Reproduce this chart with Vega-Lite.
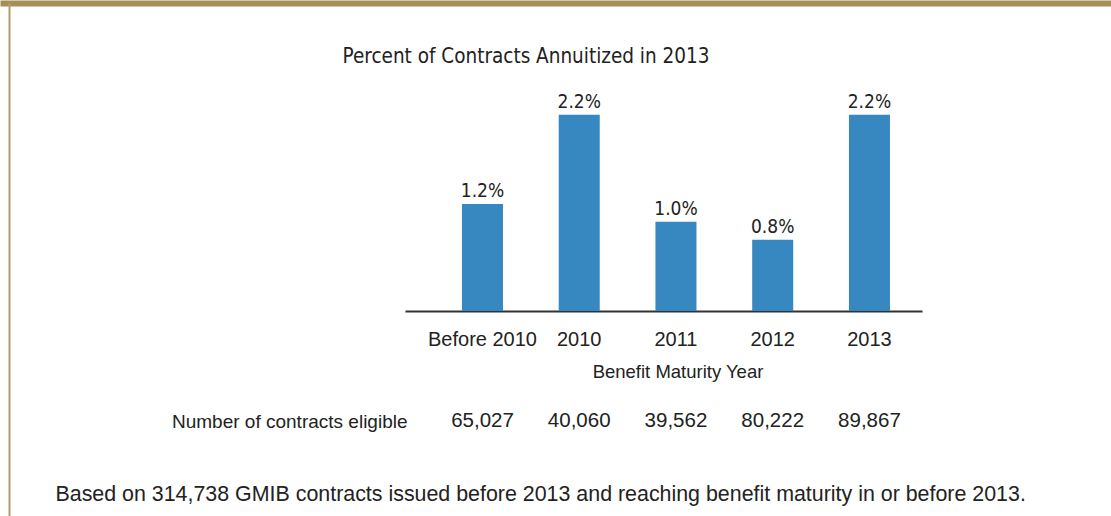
{
 "$schema": "https://vega.github.io/schema/vega-lite/v6.json",
 "width": 1111,
 "height": 513,
 "autosize": {"type": "none"},
 "padding": {"left": 0, "top": 3, "right": 0, "bottom": 0},
 "background": "#ffffff",
 "config": {"view": {"stroke": null}, "font": "Liberation Sans", "axis": {"grid": false}},
 "data": {"values": [
   {"year": "Before 2010", "pct": 0.012, "contracts": 65027},
   {"year": "2010", "pct": 0.022, "contracts": 40060},
   {"year": "2011", "pct": 0.010, "contracts": 39562},
   {"year": "2012", "pct": 0.008, "contracts": 80222},
   {"year": "2013", "pct": 0.022, "contracts": 89867}
 ]},
 "layer": [
  {
   "encoding": {
     "x": {"field": "year", "type": "nominal", "sort": null,
       "scale": {"range": [405, 922], "paddingInner": 0.576, "paddingOuter": 0.46, "align": 0.64},
       "axis": {"orient": "bottom", "offset": -205, "domain": true, "domainColor": "#333333", "domainWidth": 2, "ticks": false, "tickSize": 0, "labelFontSize": 20, "labelColor": "#222222", "labelAngle": 0, "labelBaseline": "alphabetic", "labelPadding": 34, "title": "Benefit Maturity Year", "titleFontSize": 18.5, "titleFontWeight": "normal", "titleColor": "#222222", "titleX": 677.5, "titleY": 66, "titleBaseline": "alphabetic", "titleAlign": "center"}},
     "y": {"field": "pct", "type": "quantitative",
       "scale": {"domain": [0, 0.025], "range": [308, 85], "nice": false},
       "axis": {"orient": "left", "domain": false, "ticks": false, "labels": false, "grid": false, "title": "Number of contracts eligible", "titleAngle": 0, "titleX": 407, "titleY": 424, "titleAlign": "right", "titleBaseline": "alphabetic", "titleFontSize": 19, "titleFontWeight": "normal", "titleColor": "#222222"}}
   },
   "layer": [
     {"mark": {"type": "bar", "color": "#3787c0"}},
     {"mark": {"type": "text", "font": "DejaVu Sans Condensed, Liberation Sans", "fontSize": 19, "dy": -7, "baseline": "alphabetic", "color": "#222222"},
      "encoding": {"text": {"field": "pct", "type": "quantitative", "format": ".1%"}}},
     {"mark": {"type": "text", "fontSize": 20.5, "dy": 116, "baseline": "alphabetic", "color": "#222222"},
      "encoding": {"y": {"datum": 0, "type": "quantitative"}, "text": {"field": "contracts", "type": "quantitative", "format": ","}}}
   ]
  },
  {
   "mark": {"type": "point", "opacity": 0},
   "encoding": {
     "x": {"datum": 0.5, "type": "quantitative", "scale": {"domain": [0, 1]}, "axis": {"orient": "top", "domainColor": "#a68e58", "domainWidth": 6, "ticks": false, "labels": false, "grid": false, "title": "Percent of Contracts Annuitized in 2013", "titleFont": "DejaVu Sans Condensed, Liberation Sans", "titleFontSize": 20.5, "titleFontWeight": "normal", "titleColor": "#222222", "titleX": 525.5, "titleY": 59, "titleAlign": "center", "titleBaseline": "alphabetic"}},
     "y": {"datum": 0.5, "type": "quantitative", "scale": {"domain": [0, 1]}, "axis": {"orient": "left", "offset": -9, "domainColor": "#b39d69", "domainWidth": 2, "ticks": false, "labels": false, "grid": false, "title": "Based on 314,738 GMIB contracts issued before 2013 and reaching benefit maturity in or before 2013.", "titleAngle": 0, "titleX": 46, "titleY": 497, "titleAlign": "left", "titleBaseline": "alphabetic", "titleFontSize": 21.4, "titleFontWeight": "normal", "titleColor": "#222222", "titleLimit": 2000}}
   }
  }
 ],
 "resolve": {"scale": {"x": "independent", "y": "independent"}, "axis": {"x": "independent", "y": "independent"}}
}
